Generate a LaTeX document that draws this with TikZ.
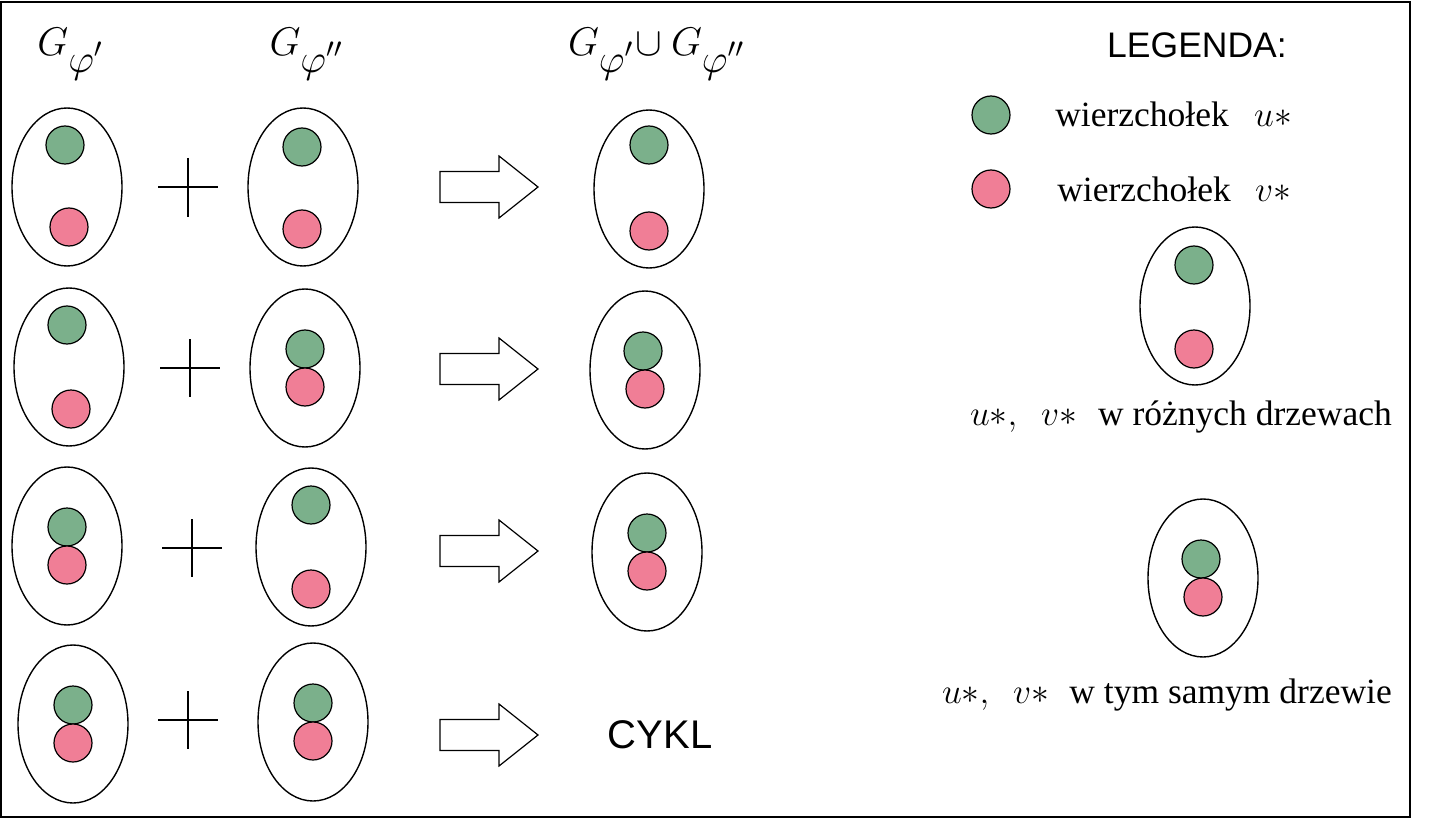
\RequirePackage{fix-cm}
\documentclass[tikz,border=0pt]{standalone}
\usepackage{fontspec}
\setmainfont{Liberation Serif}
\newfontfamily\arialf{Liberation Sans}
\usetikzlibrary{shapes.geometric}
\definecolor{ugreen}{HTML}{7BB08B}
\definecolor{vpink}{HTML}{F07E96}
\begin{document}
\begin{tikzpicture}[x=1pt,y=-1pt,
 tree/.style={draw,ellipse,line width=1.4pt,minimum width=110pt,minimum height=158pt,inner sep=0pt},
 uvert/.style={draw,circle,line width=1.2pt,fill=ugreen,minimum size=38pt,inner sep=0pt},
 vvert/.style={uvert,fill=vpink},
 plussign/.style={line width=1.4pt},
 bigarrow/.style={draw,line width=1.2pt,fill=white,line join=miter},
 hdr/.style={font=\fontsize{40}{46}\selectfont,inner sep=0pt,anchor=base},
 lbl/.style={font=\fontsize{35.5}{40}\selectfont,inner sep=0pt,anchor=base},
 sans/.style={font=\arialf\fontsize{35.5}{40}\selectfont,inner sep=0pt,anchor=base}]
\useasboundingbox (0,0) rectangle (1430,832);
\draw[line width=2pt] (1,2) rectangle (1410,817);

% headers
\node[hdr] (h1) at (70,56) {$G_{\textstyle\varphi'}$};
\node[hdr] (h2) at (306,56) {$G_{\textstyle\varphi''}$};
\node[hdr] (h3) at (656,56) {$G_{\textstyle\varphi'}\!\cup G_{\textstyle\varphi''}$};

% row 1
\node[tree] (A1) at (67,187) {};
\node[uvert] (A1u) at (65,145) {};
\node[vvert] (A1v) at (69,227) {};
\node[tree] (B1) at (303,187) {};
\node[uvert] (B1u) at (302,147) {};
\node[vvert] (B1v) at (302,229) {};
\node[tree] (C1) at (649,189) {};
\node[uvert] (C1u) at (649,145) {};
\node[vvert] (C1v) at (649,231) {};
% row 2
\node[tree] (A2) at (69,367) {};
\node[uvert] (A2u) at (67,325) {};
\node[vvert] (A2v) at (71,409) {};
\node[tree] (B2) at (305,368) {};
\node[uvert] (B2u) at (305,349) {};
\node[vvert] (B2v) at (305,387) {};
\node[tree] (C2) at (645,370) {};
\node[uvert] (C2u) at (643,351) {};
\node[vvert] (C2v) at (645,389) {};
% row 3
\node[tree] (A3) at (67,546) {};
\node[uvert] (A3u) at (67,527) {};
\node[vvert] (A3v) at (67,565) {};
\node[tree] (B3) at (311,547) {};
\node[uvert] (B3u) at (311,505) {};
\node[vvert] (B3v) at (311,589) {};
\node[tree] (C3) at (647,552) {};
\node[uvert] (C3u) at (647,533) {};
\node[vvert] (C3v) at (647,571) {};
% row 4
\node[tree] (A4) at (73,724) {};
\node[uvert] (A4u) at (73,705) {};
\node[vvert] (A4v) at (73,743) {};
\node[tree] (B4) at (313,722) {};
\node[uvert] (B4u) at (313,703) {};
\node[vvert] (B4v) at (313,741) {};
\node[font=\arialf\fontsize{40}{44}\selectfont,inner sep=0pt,anchor=base] (cykl) at (660,748) {CYKL};

% plus signs
\draw[plussign] (158,187) -- (218,187) (188,158) -- (188,217);
\draw[plussign] (160,368) -- (220,368) (190,339) -- (190,397);
\draw[plussign] (162,548) -- (222,548) (192,519) -- (192,577);
\draw[plussign] (158,720) -- (218,720) (188,691) -- (188,749);

% block arrows
\foreach \yy in {187,369,551,735}{
  \draw[bigarrow] (440,{\yy-15.5}) -- (499,{\yy-15.5}) -- (499,{\yy-31}) -- (538,\yy)
     -- (499,{\yy+31}) -- (499,{\yy+15.5}) -- (440,{\yy+15.5}) -- cycle;
}

% legend
\node[sans] (leg) at (1197,58) {LEGENDA:};
\node[uvert] (Lu) at (991,115) {};
\node[lbl] (Lut) at (1142,127) {wierzchołek};
\node[lbl] (Lus) at (1273,127) {$u{\ast}$};
\node[vvert] (Lv) at (991,189) {};
\node[lbl] (Lvt) at (1144,201) {wierzchołek};
\node[lbl] (Lvs) at (1273,201) {$v{\ast}$};

\node[tree] (L1) at (1195,306) {};
\node[uvert] (L1u) at (1194,265) {};
\node[vvert] (L1v) at (1194,349) {};
\node[lbl,anchor=base west] (d1u) at (970,425) {$u{\ast},\ \ v{\ast}$};
\node[lbl,anchor=base east] (d1t) at (1392,425) {w różnych drzewach};

\node[tree] (L2) at (1203,578) {};
\node[uvert] (L2u) at (1201,559) {};
\node[vvert] (L2v) at (1203,597) {};
\node[lbl,anchor=base west] (d2u) at (942,703) {$u{\ast},\ \ v{\ast}$};
\node[lbl,anchor=base east] (d2t) at (1392,703) {w tym samym drzewie};
\end{tikzpicture}
\end{document}
